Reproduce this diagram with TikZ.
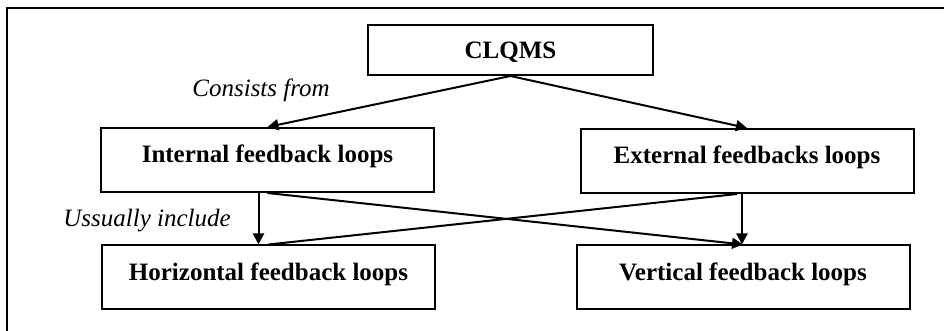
\documentclass[tikz,border=0pt]{standalone}
\usepackage{fontspec}
\setmainfont{Liberation Serif}
\usepackage{tikz}
\usetikzlibrary{positioning, calc, arrows.meta}

\begin{document}
\begin{tikzpicture}[x=0.5pt, y=-0.5pt,
          box/.style={rectangle, draw, line width=1pt, minimum width=166.5pt, minimum height=32pt,
                      inner sep=0pt, text height=10pt, text depth=7pt, font=\fontsize{12.5}{15}\selectfont\bfseries},
          note/.style={inner sep=0pt, anchor=base west, font=\fontsize{12.5}{15}\selectfont\itshape},
          arrow/.style={-{Triangle[length=5.5pt, width=5.5pt]}, line width=1pt},
          link/.style={line width=1pt}
        ]
        \useasboundingbox (0,0) rectangle (944,331);
        \draw[line width=1pt] (7,331) |- (944,8);
        \node[box, minimum width=142.5pt, minimum height=25pt, text height=9pt, text depth=0.6pt] (clqms) at (510.5,50) {CLQMS};
        \node[box] (internal) at (267.5,160) {Internal feedback loops};
        \node[box] (external) at (747,161) {External feedbacks loops};
        \node[box] (horizontal) at (268.5,277.5) {Horizontal feedback loops};
        \node[box] (vertical) at (743,277.5) {Vertical feedback loops};
        \node[note] (consists) at (192,97) {Consists from};
        \node[note] (usually) at (63,227) {Ussually include};
        \draw[arrow] (clqms.south) -- (internal.north);
        \draw[arrow] (clqms.south) -- (external.north);
        \draw[arrow] ([xshift=-4.5pt]internal.south) -- ([xshift=-4.5pt]internal.south |- horizontal.north);
        \draw[arrow] ([xshift=-2.5pt]external.south) -- ([xshift=-2.5pt]external.south |- vertical.north);
        \draw[arrow] (internal.south) -- (vertical.north);
        \draw[link] ([xshift=-5pt]external.south) -- (horizontal.north);
      \end{tikzpicture}
\end{document}
